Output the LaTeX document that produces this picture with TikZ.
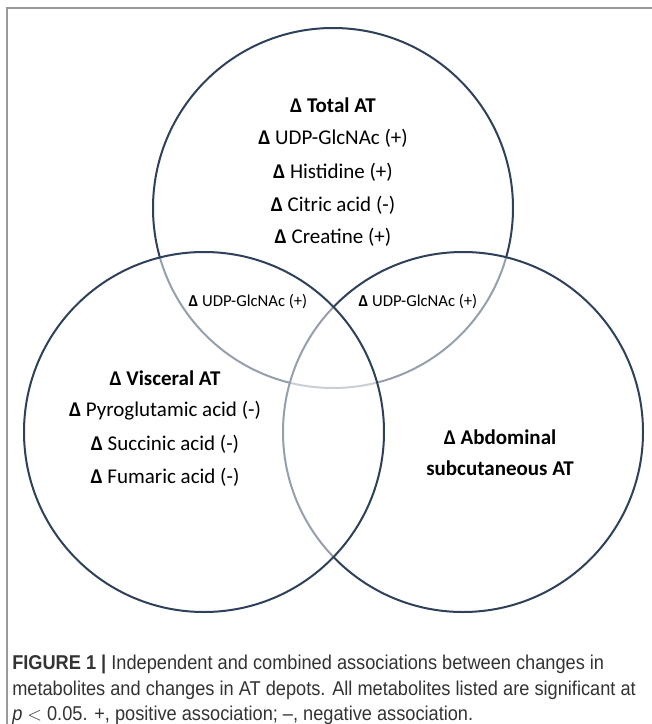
\documentclass[tikz,border=0pt]{standalone}
\usepackage{fontspec}
\setmainfont{Carlito}
\newfontfamily\capfont[FakeStretch=0.91]{Liberation Sans}

% colores
\definecolor{bordecirc}{RGB}{46,64,90}   % contorno de los círculos
\definecolor{marco}{gray}{0.6}           % línea del marco
\definecolor{textocap}{gray}{0.2}        % texto del pie

\begin{document}
\begin{tikzpicture}[x=0.75pt,y=-0.75pt,
    circulo/.style={draw=bordecirc, line width=1.5pt, fill=white, fill opacity=0.5},
    grande/.style={font=\fontsize{15.75}{19}\selectfont, inner sep=0pt},
    chico/.style={font=\fontsize{12.5}{15}\selectfont, inner sep=0pt},
    pie/.style={anchor=base west, inner sep=0pt, text=textocap,
                font=\capfont\fontsize{15}{18}\selectfont}]

    % parámetros
    \def\R{135pt}      % radio de cada círculo (180 px)

    % lienzo
    \useasboundingbox (0,0) rectangle (652,724);

    % --- marco ---
    \draw[marco, line width=1.1pt] (7,724) -- (7,8) -- (652,8);

    % --- círculos: arriba, derecha, izquierda (el último queda encima) ---
    \draw[circulo] (333,208) circle[radius=\R];
    \draw[circulo] (463,432) circle[radius=\R];
    \draw[circulo] (204,432) circle[radius=\R];

    % --- Total AT ---
    \node[grande] (tot0) at (333,105) {\textbf{Δ Total AT}};
    \node[grande] (tot1) at (333,138) {\textbf{Δ} UDP-GlcNAc (+)};
    \node[grande] (tot2) at (333,172) {\textbf{Δ} Histidine (+)};
    \node[grande] (tot3) at (333,205) {\textbf{Δ} Citric acid (-)};
    \node[grande] (tot4) at (333,237) {\textbf{Δ} Creatine (+)};

    % --- intersecciones ---
    \node[chico] (intizq) at (248,302) {\textbf{Δ} UDP-GlcNAc (+)};
    \node[chico] (intder) at (418,302) {\textbf{Δ} UDP-GlcNAc (+)};

    % --- Visceral AT ---
    \node[grande] (vis0) at (165,378) {\textbf{Δ Visceral AT}};
    \node[grande] (vis1) at (165,411) {\textbf{Δ} Pyroglutamic acid (-)};
    \node[grande] (vis2) at (165,444) {\textbf{Δ} Succinic acid (-)};
    \node[grande] (vis3) at (165,477) {\textbf{Δ} Fumaric acid (-)};

    % --- Abdominal subcutaneous AT ---
    \node[grande] (abd0) at (500,437) {\textbf{Δ Abdominal}};
    \node[grande] (abd1) at (500,468) {\textbf{subcutaneous AT}};

    % --- pie de figura ---
    \node[pie] (pie1) at (12,669) {\textbf{FIGURE 1 |} Independent and combined associations between changes in};
    \node[pie] (pie2) at (12,695) {metabolites and changes in AT depots. All metabolites listed are significant at};
    \node[pie] (pie3) at (12,720) {\textit{p} $<$ 0.05. +, positive association; –, negative association.};

\end{tikzpicture}
\end{document}
